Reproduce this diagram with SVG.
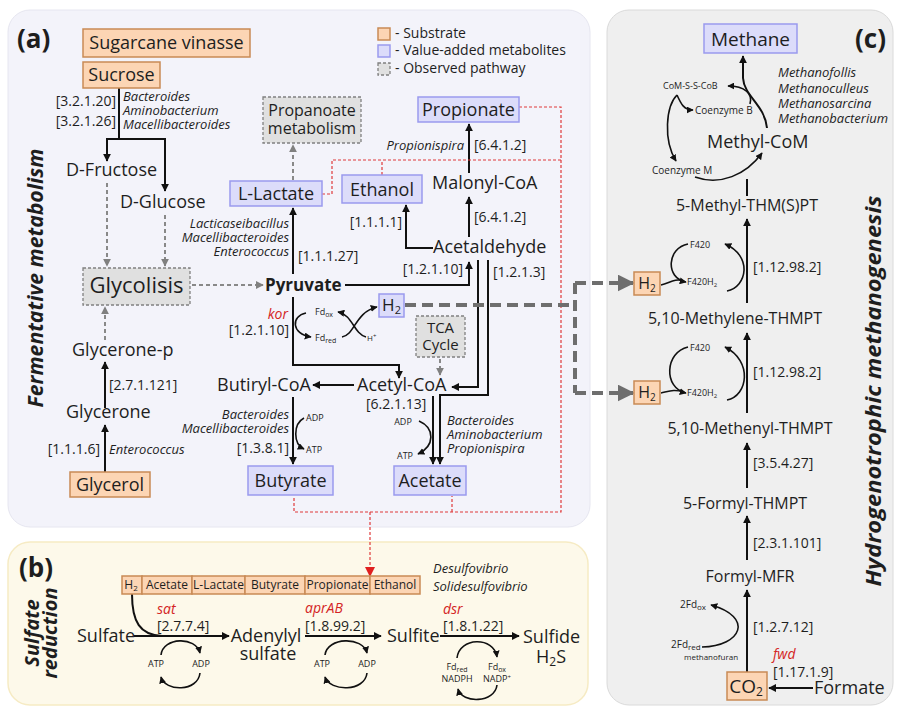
<svg xmlns="http://www.w3.org/2000/svg" width="897" height="709" viewBox="0 0 897 709">
<defs>
<style>
text{font-family:"Open Sans","DejaVu Sans",sans-serif;fill:#1e1e1e}
.n{font-size:18px}
.ec{font-size:14px}
.it{font-size:13px;font-style:italic}
.sm{font-size:9px}
.xs{font-size:10px}
.red{fill:#d42424;font-style:italic;font-size:14px}
.pl{font-size:26px;font-weight:bold}
.vt{font-weight:bold;font-style:italic}
.ln{stroke:#111;stroke-width:2;fill:none}
.cv{stroke:#111;stroke-width:1.6;fill:none}
.gd{stroke:#888;stroke-width:2;stroke-dasharray:4 3;fill:none}
.rd{stroke:#e03a3a;stroke-width:1.2;stroke-dasharray:3 2;fill:none}
.hd{stroke:#6e6e6e;stroke-width:4;stroke-dasharray:11 6;fill:none}
.sub{fill:#fcd5b4;stroke:#c98a55;stroke-width:1.5}
.val{fill:#dcdcfa;stroke:#9a9aee;stroke-width:1.5}
.obs{fill:#e0e0e0;stroke:#808080;stroke-width:1.3;stroke-dasharray:3 2}
</style>
<marker id="ak" viewBox="0 0 10 10" refX="9" refY="5" markerWidth="8" markerHeight="8" markerUnits="userSpaceOnUse" orient="auto"><path d="M0,0 L10,5 L0,10 z" fill="#111"/></marker>
<marker id="as" viewBox="0 0 10 10" refX="9" refY="5" markerWidth="7" markerHeight="7" markerUnits="userSpaceOnUse" orient="auto"><path d="M0,0 L10,5 L0,10 z" fill="#111"/></marker>
<marker id="ag" viewBox="0 0 10 10" refX="9" refY="5" markerWidth="8" markerHeight="8" markerUnits="userSpaceOnUse" orient="auto"><path d="M0,0 L10,5 L0,10 z" fill="#808080"/></marker>
<marker id="ar" viewBox="0 0 10 10" refX="9" refY="5" markerWidth="10" markerHeight="10" markerUnits="userSpaceOnUse" orient="auto"><path d="M0,0 L10,5 L0,10 z" fill="#e02020"/></marker>
<marker id="ah" viewBox="0 0 10 10" refX="9" refY="5" markerWidth="17" markerHeight="17" markerUnits="userSpaceOnUse" orient="auto"><path d="M0,0 L10,5 L0,10 z" fill="#6e6e6e"/></marker>
</defs>

<g id="panels">
<rect x="8" y="10" width="582" height="517" rx="22" fill="#f3f3fa" stroke="#e6e6f0"/>
<rect x="8" y="542" width="580" height="163" rx="22" fill="#fdf9ea" stroke="#f6ebc4" stroke-width="1.5"/>
<rect x="607" y="10" width="286" height="695" rx="22" fill="#efefef" stroke="#dadada"/>
<text class="pl" x="17" y="48">(a)</text>
<text class="pl" x="19" y="577">(b)</text>
<text class="pl" x="855" y="48">(c)</text>
<text class="vt" font-size="21" text-anchor="middle" transform="translate(43,278) rotate(-90)" textLength="259" lengthAdjust="spacingAndGlyphs">Fermentative metabolism</text>
<text class="vt" font-size="20" text-anchor="middle" transform="translate(39,633) rotate(-90)">Sulfate</text>
<text class="vt" font-size="20" text-anchor="middle" transform="translate(57,633) rotate(-90)">reduction</text>
<text class="vt" font-size="21" text-anchor="middle" transform="translate(881,391) rotate(-90)" textLength="391" lengthAdjust="spacingAndGlyphs">Hydrogenotrophic methanogenesis</text>
</g>

<g id="legend">
<rect class="sub" x="378" y="28" width="12" height="12"/>
<text class="ec" x="395" y="38">- Substrate</text>
<rect class="val" x="378" y="45" width="12" height="12"/>
<text class="ec" x="395" y="55">- Value-added metabolites</text>
<rect class="obs" x="378" y="63" width="12" height="12"/>
<text class="ec" x="395" y="73">- Observed pathway</text>
</g>

<g id="connectors">
<path class="ln" d="M119,88 V139 M106,139 H166"/>
<path class="ln" d="M107,139 V161" marker-end="url(#ak)"/>
<path class="ln" d="M165,139 V191" marker-end="url(#ak)"/>
<path class="ln" d="M105,408 V362" marker-end="url(#ak)"/>
<path class="ln" d="M105,472 V425" marker-end="url(#ak)"/>
<path class="ln" d="M293,274 V208" marker-end="url(#ak)"/>
<path class="ln" d="M433,248 H406 V205" marker-end="url(#ak)"/>
<path class="ln" d="M469,237 V197" marker-end="url(#ak)"/>
<path class="ln" d="M469,173 V124" marker-end="url(#ak)"/>
<path class="ln" d="M345,285 H469 V262" marker-end="url(#ak)"/>
<path class="ln" d="M478,260 V387 H452" marker-end="url(#ak)"/>
<path class="ln" d="M488,260 V395 H440 V464" marker-end="url(#ak)"/>
<path class="ln" d="M293,297 V365 H399 V378" marker-end="url(#ak)"/>
<path class="ln" d="M354,385 H313" marker-end="url(#ak)"/>
<path class="ln" d="M433,396 V464" marker-end="url(#ak)"/>
<path class="ln" d="M293,397 V464" marker-end="url(#ak)"/>
<path class="cv" d="M306,313 C291,316 291,334 311,337" marker-end="url(#as)"/>
<path class="cv" d="M342,337 C355,335 355,312 377,307" marker-end="url(#as)"/>
<path class="cv" d="M366,337 C353,333 353,315 338,312" marker-end="url(#as)"/>
<path class="cv" d="M419,421 C435,428 435,446 418,454" marker-end="url(#as)"/>
<path class="cv" d="M304,418 C293,424 293,444 304,449" marker-end="url(#as)"/>
<path class="gd" d="M107,183 V266" marker-end="url(#ag)"/>
<path class="gd" d="M165,215 V266" marker-end="url(#ag)"/>
<path class="gd" d="M192,285 H263" marker-end="url(#ag)"/>
<path class="gd" d="M105,340 V307" marker-end="url(#ag)"/>
<path class="gd" d="M293,180 V145" marker-end="url(#ag)"/>
<path class="gd" d="M440,359 V375" marker-end="url(#ag)"/>
<path class="rd" d="M519,107 H561 V512 H294 V496"/>
<path class="rd" d="M452,512 V496"/>
<path class="rd" d="M322,194 H332 V160 H561"/>
<path class="rd" d="M382,175 V160"/>
<path class="rd" d="M370,512 V576" marker-end="url(#ar)"/>
<path class="hd" d="M405,305 H575"/>
<path class="hd" d="M575,283 V393"/>
<path class="hd" d="M575,283 H633" marker-end="url(#ah)"/>
<path class="hd" d="M575,393 H633" marker-end="url(#ah)"/>
<path class="ln" d="M134,636 H229" marker-end="url(#ak)"/>
<path class="ln" d="M132,594 C132,622 140,635 162,636"/>
<path class="cv" d="M161,655 C163,637 196,636 200,653" marker-end="url(#as)"/>
<path class="cv" d="M200,673 C198,692 165,692 161,677" marker-end="url(#as)"/>
<path class="ln" d="M305,636 H381" marker-end="url(#ak)"/>
<path class="cv" d="M325,655 C327,637 363,636 367,653" marker-end="url(#as)"/>
<path class="cv" d="M367,673 C365,692 330,692 325,677" marker-end="url(#as)"/>
<path class="ln" d="M440,636 H519" marker-end="url(#ak)"/>
<path class="cv" d="M457,658 C459,637 494,636 497,657" marker-end="url(#as)"/>
<path class="cv" d="M497,685 C495,703 462,704 458,689" marker-end="url(#as)"/>
<path class="ln" d="M767,128 C765,105 744,96 743,78 V56" marker-end="url(#ak)"/>
<path class="cv" d="M750,104 C753,94 745,86 728,86" marker-end="url(#as)"/>
<path class="cv" d="M677,95 C666,106 663,140 676,161" marker-end="url(#as)"/>
<path class="cv" d="M677,95 C681,104 684,110 693,110" marker-end="url(#as)"/>
<path class="cv" d="M695,177 C720,186 746,175 762,153" marker-end="url(#as)"/>
<path class="ln" d="M747,196 V179"/>
<path class="ln" d="M747,303 V219" marker-end="url(#ak)"/>
<path class="cv" d="M688,244 C667,248 665,278 686,282" marker-end="url(#as)"/>
<path class="cv" d="M661,285 C670,283 674,278 684,281"/>
<path class="cv" d="M727,291 C747,287 753,256 725,244" marker-end="url(#as)"/>
<path class="ln" d="M747,413 V333" marker-end="url(#ak)"/>
<path class="cv" d="M688,347 C665,352 663,388 686,393" marker-end="url(#as)"/>
<path class="cv" d="M661,393 C670,391 674,389 684,392"/>
<path class="cv" d="M727,400 C748,396 753,361 725,347" marker-end="url(#as)"/>
<path class="ln" d="M747,488 V443" marker-end="url(#ak)"/>
<path class="ln" d="M747,560 V516" marker-end="url(#ak)"/>
<path class="ln" d="M747,672 V590" marker-end="url(#ak)"/>
<path class="cv" d="M702,647 C742,646 754,617 711,605" marker-end="url(#as)"/>
<path class="ln" d="M813,688 H769" marker-end="url(#ak)"/>
</g>

<g id="n-vinasse"><rect class="sub" x="83" y="29" width="167" height="28"/><text class="n" x="166.5" y="49" text-anchor="middle">Sugarcane vinasse</text></g>
<g id="n-sucrose"><rect class="sub" x="83" y="62" width="77" height="26"/><text class="n" x="121.5" y="81" text-anchor="middle">Sucrose</text></g>
<g id="l-sucrose"><text class="ec" x="116" y="106" text-anchor="end">[3.2.1.20]</text><text class="ec" x="116" y="126" text-anchor="end">[3.2.1.26]</text>
<text class="it" x="123" y="101">Bacteroides</text><text class="it" x="123" y="115">Aminobacterium</text><text class="it" x="123" y="129">Macellibacteroides</text></g>
<g id="n-fructose"><text class="n" x="66" y="176">D-Fructose</text></g>
<g id="n-glucose"><text class="n" x="120" y="208">D-Glucose</text></g>
<g id="n-glycolisis"><rect class="obs" x="83" y="268" width="107" height="37"/><text x="136.5" y="293" font-size="22" text-anchor="middle">Glycolisis</text></g>
<g id="n-pyruvate"><text x="265" y="291" font-size="17" font-weight="bold">Pyruvate</text></g>
<g id="n-glyceronep"><text class="n" x="72" y="356">Glycerone-p</text></g>
<g id="n-glycerone"><text class="n" x="66" y="418">Glycerone</text><text class="ec" x="109" y="390">[2.7.1.121]</text></g>
<g id="n-glycerol"><rect class="sub" x="70" y="472" width="80" height="25"/><text class="n" x="110" y="491" text-anchor="middle">Glycerol</text>
<text class="ec" x="100" y="454" text-anchor="end">[1.1.1.6]</text><text class="it" x="109" y="454">Enterococcus</text></g>
<g id="n-lactate"><rect class="val" x="230" y="181" width="92" height="25"/><text class="n" x="276" y="200" text-anchor="middle">L-Lactate</text>
<text class="it" x="289" y="228" text-anchor="end">Lacticaseibacillus</text><text class="it" x="289" y="242" text-anchor="end">Macellibacteroides</text><text class="it" x="289" y="256" text-anchor="end">Enterococcus</text>
<text class="ec" x="298" y="261">[1.1.1.27]</text></g>
<g id="n-propanoate"><rect class="obs" x="263" y="97" width="98" height="46"/><text x="312" y="116" font-size="16" text-anchor="middle">Propanoate</text><text x="312" y="134" font-size="16" text-anchor="middle">metabolism</text></g>
<g id="n-ethanol"><rect class="val" x="342" y="175" width="80" height="28"/><text class="n" x="382" y="196" text-anchor="middle">Ethanol</text><text class="ec" x="402" y="227" text-anchor="end">[1.1.1.1]</text></g>
<g id="n-propionate"><rect class="val" x="418" y="97" width="101" height="25"/><text class="n" x="468.5" y="116" text-anchor="middle">Propionate</text>
<text class="ec" x="474" y="150">[6.4.1.2]</text><text class="it" x="464" y="150" text-anchor="end">Propionispira</text></g>
<g id="n-malonyl"><text class="n" x="432" y="189">Malonyl-CoA</text><text class="ec" x="474" y="222">[6.4.1.2]</text></g>
<g id="n-acetaldehyde"><text class="n" x="433" y="253">Acetaldehyde</text><text class="ec" x="463" y="274" text-anchor="end">[1.2.1.10]</text><text class="ec" x="493" y="277">[1.2.1.3]</text></g>
<g id="n-h2a"><rect class="val" x="379" y="294" width="25" height="23"/><text x="391.5" y="311" font-size="17" text-anchor="middle">H<tspan font-size="11" dy="3">2</tspan></text></g>
<g id="l-kor"><text class="red" x="288" y="319" text-anchor="end">kor</text><text class="ec" x="289" y="335" text-anchor="end">[1.2.1.10]</text>
<text class="sm" x="315" y="315">Fd<tspan font-size="7" dy="2">ox</tspan></text><text class="sm" x="315" y="341">Fd<tspan font-size="7" dy="2">red</tspan></text><text font-size="8" x="367" y="341">H<tspan font-size="6" dy="-3">+</tspan></text></g>
<g id="n-tca"><rect class="obs" x="416" y="316" width="49" height="41"/><text x="440.5" y="333" font-size="15" text-anchor="middle">TCA</text><text x="440.5" y="350" font-size="15" text-anchor="middle">Cycle</text></g>
<g id="n-acetylcoa"><text class="n" x="357" y="391">Acetyl-CoA</text><text class="ec" x="366" y="409">[6.2.1.13]</text>
<text class="sm" x="403" y="425" text-anchor="middle">ADP</text><text class="sm" x="405" y="459" text-anchor="middle">ATP</text>
<text class="it" x="447" y="425">Bacteroides</text><text class="it" x="447" y="439">Aminobacterium</text><text class="it" x="447" y="453">Propionispira</text></g>
<g id="n-butirylcoa"><text class="n" x="217" y="391">Butiryl-CoA</text>
<text class="it" x="289" y="419" text-anchor="end">Bacteroides</text><text class="it" x="289" y="433" text-anchor="end">Macellibacteroides</text><text class="ec" x="289" y="453" text-anchor="end">[1.3.8.1]</text>
<text class="sm" x="306" y="421">ADP</text><text class="sm" x="306" y="453">ATP</text></g>
<g id="n-butyrate"><rect class="val" x="248" y="466" width="85" height="29"/><text class="n" x="290.5" y="487" text-anchor="middle">Butyrate</text></g>
<g id="n-acetate"><rect class="val" x="394" y="466" width="72" height="29"/><text class="n" x="430" y="487" text-anchor="middle">Acetate</text></g>

<g id="n-bar">
<rect class="sub" x="122" y="576" width="20" height="18"/><rect class="sub" x="142" y="576" width="50" height="18"/><rect class="sub" x="192" y="576" width="53" height="18"/><rect class="sub" x="245" y="576" width="60" height="18"/><rect class="sub" x="305" y="576" width="65" height="18"/><rect class="sub" x="370" y="576" width="50" height="18"/>
<text font-size="12" x="131" y="589" text-anchor="middle">H<tspan font-size="8" dy="2">2</tspan></text>
<text font-size="12" x="167" y="589" text-anchor="middle">Acetate</text>
<text font-size="12" x="218.5" y="589" text-anchor="middle">L-Lactate</text>
<text font-size="12" x="275" y="589" text-anchor="middle">Butyrate</text>
<text font-size="12" x="337.5" y="589" text-anchor="middle">Propionate</text>
<text font-size="12" x="395" y="589" text-anchor="middle">Ethanol</text>
<text class="it" x="433" y="573" font-size="14">Desulfovibrio</text><text class="it" x="433" y="591" font-size="14">Solidesulfovibrio</text>
</g>
<g id="n-sulfate"><text class="n" x="77" y="642">Sulfate</text>
<text class="red" x="157" y="614">sat</text><text class="ec" x="157" y="631">[2.7.7.4]</text>
<text class="sm" x="156" y="667" text-anchor="middle">ATP</text><text class="sm" x="201" y="667" text-anchor="middle">ADP</text></g>
<g id="n-adenylyl"><text class="n" x="266" y="642" text-anchor="middle">Adenylyl</text><text class="n" x="268" y="660" text-anchor="middle">sulfate</text>
<text class="red" x="305" y="613">aprAB</text><text class="ec" x="305" y="631">[1.8.99.2]</text>
<text class="sm" x="322" y="667" text-anchor="middle">ATP</text><text class="sm" x="367" y="667" text-anchor="middle">ADP</text></g>
<g id="n-sulfite"><text class="n" x="387" y="642">Sulfite</text>
<text class="red" x="443" y="614">dsr</text><text class="ec" x="443" y="631">[1.8.1.22]</text>
<text class="sm" x="457" y="670" text-anchor="middle">Fd<tspan font-size="7" dy="2">red</tspan></text><text class="sm" x="457" y="682" text-anchor="middle">NADPH</text>
<text class="sm" x="497" y="670" text-anchor="middle">Fd<tspan font-size="7" dy="2">ox</tspan></text><text class="sm" x="497" y="682" text-anchor="middle">NADP<tspan font-size="6" dy="-3">+</tspan></text></g>
<g id="n-sulfide"><text class="n" x="523" y="643">Sulfide</text><text class="n" x="551" y="663" text-anchor="middle">H<tspan font-size="12" dy="3">2</tspan><tspan dy="-3">S</tspan></text></g>

<g id="n-methane"><rect class="val" x="704" y="24" width="93" height="29"/><text x="750.5" y="46" font-size="19" text-anchor="middle">Methane</text>
<text class="it" x="778" y="77" font-size="14">Methanofollis</text><text class="it" x="778" y="93" font-size="14">Methanoculleus</text><text class="it" x="778" y="108" font-size="14">Methanosarcina</text><text class="it" x="778" y="123" font-size="14">Methanobacterium</text></g>
<g id="n-cofactors"><text class="sm" x="663" y="89">CoM-S-S-CoB</text><text class="xs" x="695" y="114">Coenzyme B</text><text class="xs" x="652" y="174">Coenzyme M</text></g>
<g id="n-methylcom"><text x="707" y="148" font-size="18">Methyl-CoM</text></g>
<g id="n-methylthm"><text x="747" y="211" font-size="16" text-anchor="middle">5-Methyl-THM(S)PT</text></g>
<g id="n-h2c1"><rect class="sub" x="634" y="272" width="26" height="23"/><text x="647" y="289" font-size="16" text-anchor="middle">H<tspan font-size="10" dy="3">2</tspan></text>
<text class="sm" x="690" y="248">F420</text><text class="sm" x="687" y="285">F420H<tspan font-size="6" dy="2">2</tspan></text><text class="ec" x="753" y="272">[1.12.98.2]</text></g>
<g id="n-methylene"><text x="735" y="324" font-size="16" text-anchor="middle">5,10-Methylene-THMPT</text></g>
<g id="n-h2c2"><rect class="sub" x="634" y="381" width="26" height="23"/><text x="647" y="398" font-size="16" text-anchor="middle">H<tspan font-size="10" dy="3">2</tspan></text>
<text class="sm" x="690" y="351">F420</text><text class="sm" x="687" y="396">F420H<tspan font-size="6" dy="2">2</tspan></text><text class="ec" x="753" y="377">[1.12.98.2]</text></g>
<g id="n-methenyl"><text x="750" y="434" font-size="16" text-anchor="middle">5,10-Methenyl-THMPT</text><text class="ec" x="753" y="468">[3.5.4.27]</text></g>
<g id="n-formylthmpt"><text x="745" y="509" font-size="16" text-anchor="middle">5-Formyl-THMPT</text><text class="ec" x="753" y="548">[2.3.1.101]</text></g>
<g id="n-formylmfr"><text x="750" y="582" font-size="16" text-anchor="middle">Formyl-MFR</text><text class="ec" x="753" y="632">[1.2.7.12]</text>
<text class="xs" x="680" y="608">2Fd<tspan font-size="8" dy="2">ox</tspan></text><text class="xs" x="671" y="648">2Fd<tspan font-size="8" dy="2">red</tspan></text><text font-size="8" x="684" y="660">methanofuran</text></g>
<g id="n-co2"><rect class="sub" x="727" y="672" width="40" height="28"/><text x="746" y="693" font-size="19" text-anchor="middle">CO<tspan font-size="12" dy="3">2</tspan></text>
<text class="red" x="773" y="659">fwd</text><text class="ec" x="773" y="677">[1.17.1.9]</text></g>
<g id="n-formate"><text class="n" x="814" y="694">Formate</text></g>
</svg>
